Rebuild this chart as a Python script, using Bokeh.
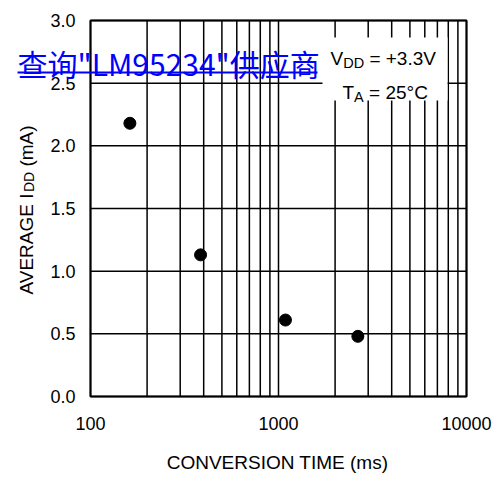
import math
from bokeh.plotting import figure
from bokeh.models import Range1d
from bokeh.core.properties import value
from bokeh.embed import file_html
from bokeh.resources import INLINE

# ---- data ----
conversion_time_ms = [162, 385, 1089, 2643]
avg_idd_ma = [2.18, 1.13, 0.61, 0.48]
x_lo, x_hi = 100, 10000
y_lo, y_hi = 0.0, 3.0
x_major_ticks = [100, 1000, 10000]
x_tick_labels = ["100", "1000", "10000"]
x_minor_ticks = [200, 300, 400, 500, 600, 700, 800, 900,
                 2000, 3000, 4000, 5000, 6000, 7000, 8000, 9000]
y_ticks = [0.0, 0.5, 1.0, 1.5, 2.0, 2.5, 3.0]
y_tick_labels = ["0.0", "0.5", "1.0", "1.5", "2.0", "2.5", "3.0"]
x_title = "CONVERSION TIME (ms)"
y_title_parts = ["AVERAGE I", "DD", "(mA)"]
cond1_parts = ["V", "DD", "= +3.3V"]
cond2_parts = ["T", "A", "= 25°C"]
watermark = "查询\"LM95234\"供应商"

FONT = value("Liberation Sans")
W, H = 493, 477
# plot box in canvas pixels
BOX_L, BOX_R, BOX_T, BOX_B = 90, 466, 20, 396
DEC = (BOX_R - BOX_L) / 2.0           # px per decade
UNIT = (BOX_B - BOX_T) / (y_hi - y_lo)  # px per mA

def px_x(px):
    return 10 ** (math.log10(x_lo) + (px - BOX_L) / DEC)

def px_y(py):
    return y_lo + (BOX_B - py) / UNIT

p = figure(width=W, height=H, x_axis_type="log",
           x_range=Range1d(px_x(0), px_x(W)),
           y_range=Range1d(px_y(H), px_y(0)),
           x_axis_location=None, y_axis_location=None,
           output_backend="svg", toolbar_location=None,
           min_border=0)
p.grid.visible = False
p.outline_line_color = None
p.background_fill_color = "white"
p.border_fill_color = "white"

# grid lines
vx = x_major_ticks + x_minor_ticks
p.segment(x0=vx, y0=[y_lo] * len(vx), x1=vx, y1=[y_hi] * len(vx),
          line_color="black", line_width=1.5)
p.segment(x0=[x_lo] * len(y_ticks), y0=y_ticks,
          x1=[x_hi] * len(y_ticks), y1=y_ticks,
          line_color="black", line_width=1.5)

# white box behind the conditions
p.quad(left=[px_x(322)], right=[px_x(447)], top=[px_y(37)], bottom=[px_y(100)],
       fill_color="white", line_color=None)

# plot border
p.quad(left=[x_lo], right=[x_hi], bottom=[y_lo], top=[y_hi],
       fill_color=None, line_color="black", line_width=2)

# data points
p.scatter(conversion_time_ms, avg_idd_ma, size=12, marker="circle",
          fill_color="black", line_color="black")

# tick labels
p.text(x=x_major_ticks, y=[y_lo] * 3, text=x_tick_labels,
       text_font=FONT, text_font_size="18px", text_color="black",
       text_align="center", text_baseline="alphabetic", y_offset=27)
p.text(x=[x_lo] * len(y_ticks), y=y_ticks, text=y_tick_labels,
       text_font=FONT, text_font_size="18px", text_color="black",
       text_align="right", text_baseline="middle", x_offset=-15)

def txt(s, x, y, size, color="black", font=FONT, angle=0.0, align="left"):
    p.text(x=[x], y=[y], text=[s], text_font=font, text_font_size=size,
           text_color=color, text_align=align, text_baseline="alphabetic",
           angle=angle)

# x title
txt(x_title, px_x(277), px_y(462), "19px", align="center")

# y title (rotated) with subscript
txt(y_title_parts[0], px_x(25.5), px_y(294), "19px", angle=math.pi / 2)
txt(y_title_parts[1], px_x(28.5), px_y(191.6), "14px", angle=math.pi / 2)
txt(y_title_parts[2], px_x(25.5), px_y(166.1), "19px", angle=math.pi / 2)

# test conditions
txt(cond1_parts[0], px_x(330), px_y(58), "19px")
txt(cond1_parts[1], px_x(342.7), px_y(62), "14.5px")
txt(cond1_parts[2], px_x(368.9), px_y(58), "19px")
txt(cond2_parts[0], px_x(342), px_y(92), "19px")
txt(cond2_parts[1], px_x(353.6), px_y(96), "14.5px")
txt(cond2_parts[2], px_x(368.6), px_y(92), "19px")

# watermark with underline
txt(watermark, px_x(17), px_y(62), "30px", color="#0000ff",
    font=value("Noto Sans CJK SC"))
p.quad(left=[px_x(17)], right=[px_x(317)], top=[px_y(71)], bottom=[px_y(73)],
       fill_color="#0000ff", line_color=None)

open("out.html", "w").write(file_html(p, INLINE))
